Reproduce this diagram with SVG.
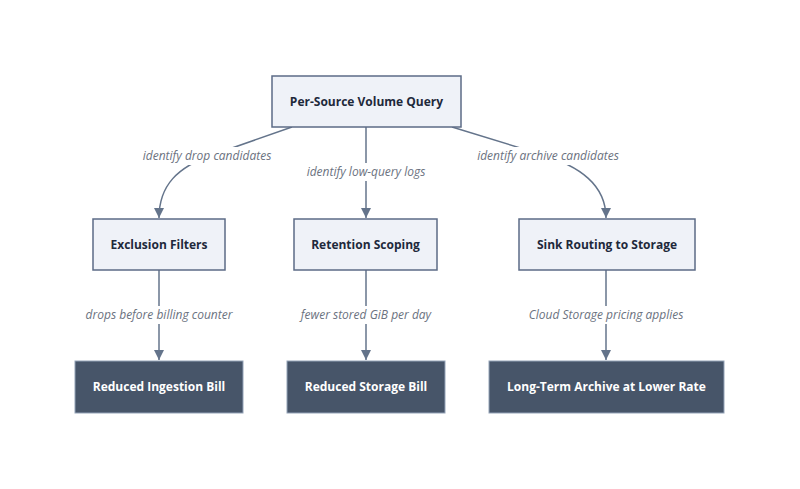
<svg xmlns="http://www.w3.org/2000/svg" width="800" height="489" viewBox="0 0 800 489">
<defs>
<marker id="arr" viewBox="0 0 10 10" refX="10" refY="5" markerWidth="10" markerHeight="10" markerUnits="userSpaceOnUse" orient="auto">
<path d="M0,0 L10,5 L0,10 z" fill="#64748b"/>
</marker>
<style>
.n rect{fill:#eff2f8;stroke:#5c6b86;stroke-width:1.5}
.n text{font-family:"Open Sans",sans-serif;font-size:12px;font-weight:700;fill:#1e293b;text-anchor:middle}
.d rect{fill:#475569;stroke:#94a3b8;stroke-width:1}
.d text{font-family:"Open Sans",sans-serif;font-size:12px;font-weight:700;fill:#ffffff;text-anchor:middle}
.e path{fill:none;stroke:#64748b;stroke-width:1.5;marker-end:url(#arr)}
.lb rect{fill:#ffffff}
.lb text{font-family:"Open Sans",sans-serif;font-size:12px;font-style:italic;fill:#6b7280;text-anchor:middle}
</style>
</defs>
<rect width="800" height="489" fill="#ffffff"/>
<g id="connectors" class="e">
<path d="M292,127 L212,155 C178,167 159,185 159,218"/>
<path d="M366,127 L366,218"/>
<path d="M452,127 L540,154 C580,166 606,185 606,218"/>
<path d="M159,270 L159,360"/>
<path d="M366,270 L366,360"/>
<path d="M606,270 L606,360"/>
</g>
<g id="labels" class="lb">
<rect x="142" y="147" width="131" height="18"/><text x="207" y="160">identify drop candidates</text>
<rect x="304" y="163" width="124" height="18"/><text x="366" y="176">identify low-query logs</text>
<rect x="476" y="147" width="145" height="18"/><text x="548" y="160">identify archive candidates</text>
<rect x="84" y="306" width="150" height="18"/><text x="159" y="319">drops before billing counter</text>
<rect x="299" y="306" width="134" height="18"/><text x="366" y="319">fewer stored GiB per day</text>
<rect x="527" y="306" width="159" height="18"/><text x="606" y="319">Cloud Storage pricing applies</text>
</g>
<g id="n-query" class="n"><rect x="272" y="76" width="189" height="51"/><text x="366.5" y="106">Per-Source Volume Query</text></g>
<g id="n-exclusion" class="n"><rect x="93" y="219" width="132" height="51"/><text x="159" y="249">Exclusion Filters</text></g>
<g id="n-retention" class="n"><rect x="294" y="219" width="143" height="51"/><text x="365.5" y="249">Retention Scoping</text></g>
<g id="n-sink" class="n"><rect x="519" y="219" width="176" height="51"/><text x="607" y="249">Sink Routing to Storage</text></g>
<g id="n-ingest" class="d"><rect x="75" y="361" width="168" height="52"/><text x="159" y="391">Reduced Ingestion Bill</text></g>
<g id="n-storage" class="d"><rect x="287" y="361" width="158" height="52"/><text x="366" y="391">Reduced Storage Bill</text></g>
<g id="n-archive" class="d"><rect x="489" y="361" width="235" height="52"/><text x="606.5" y="391">Long-Term Archive at Lower Rate</text></g>
</svg>
